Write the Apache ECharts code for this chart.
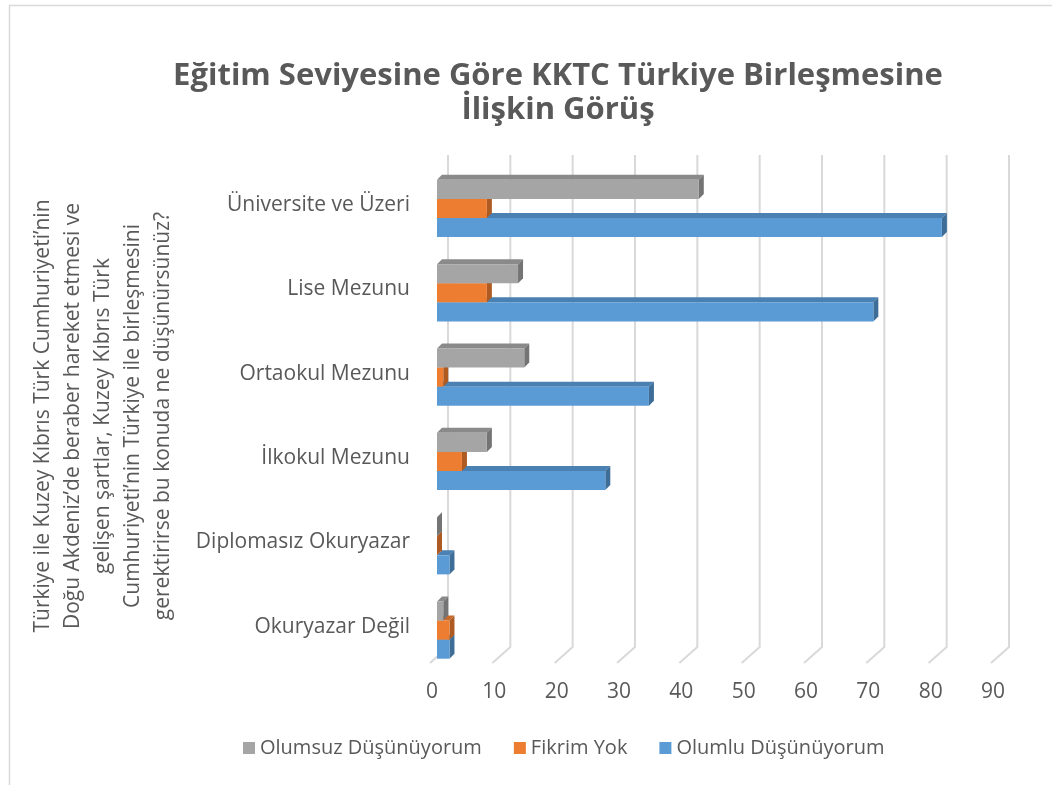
<!DOCTYPE html>
<html>
<head>
<meta charset="utf-8">
<title>Eğitim Seviyesine Göre KKTC Türkiye Birleşmesine İlişkin Görüş</title>
<script src="https://cdn.jsdelivr.net/npm/echarts@6/dist/echarts.min.js"></script>
<style>
  html, body { margin: 0; padding: 0; background: #fff; }
  #chart { width: 1052px; height: 785px; }
</style>
</head>
<body>
<div id="chart"></div>
<script>
// kategoriler (yukaridan asagiya)
var categories = ['Üniversite ve Üzeri', 'Lise Mezunu', 'Ortaokul Mezunu', 'İlkokul Mezunu', 'Diplomasız Okuryazar', 'Okuryazar Değil']
var olumsuz = [42, 13, 14, 8, 0, 1]
var fikrimYok = [8, 8, 1, 4, 0, 2]
var olumlu = [81, 70, 34, 27, 2, 2]
var xTicks = [0, 10, 20, 30, 40, 50, 60, 70, 80, 90]
var yTitleLines = [
  'Türkiye ile Kuzey Kıbrıs Türk Cumhuriyeti’nin',
  'Doğu Akdeniz’de beraber hareket etmesi ve',
  'gelişen şartlar, Kuzey Kıbrıs Türk',
  'Cumhuriyeti’nin Türkiye ile birleşmesini',
  'gerektirirse bu konuda ne düşünürsünüz?'
]

var textColor = '#595959'
var fontFamily = '"Open Sans", "Noto Sans", sans-serif'
var depth = 5

// 3 boyutlu gorunumlu cubuk ciz (on yuz + ust yuz + yan yuz)
function barRenderer (slot, colors) {
  return function (params, api) {
    var value = api.value(0)
    var cat = api.value(1)
    var start = api.coord([0, cat])
    var end = api.coord([value, cat])
    var band = api.size([0, 1])[1]
    var h = band * 0.226
    var y = start[1] - band * 0.3 + slot * h
    var x0 = start[0]
    var x1 = end[0]
    return {
      type: 'group',
      children: [
        {
          type: 'polygon',
          shape: { points: [[x0, y], [x0 + depth, y - depth], [x1 + depth, y - depth], [x1, y]] },
          style: { fill: colors[1] }
        },
        {
          type: 'polygon',
          shape: { points: [[x1, y], [x1 + depth, y - depth], [x1 + depth, y + h - depth], [x1, y + h]] },
          style: { fill: colors[2] }
        },
        {
          type: 'rect',
          shape: { x: x0, y: y, width: x1 - x0, height: h },
          style: { fill: colors[0] }
        }
      ]
    }
  }
}

// arka duvar ve zemindeki izgara cizgileri
function gridRenderer (params, api) {
  var p = api.coord([api.value(0), 0])
  var cs = params.coordSys
  var top = cs.y
  var bottom = cs.y + cs.height
  return {
    type: 'polyline',
    shape: { points: [[p[0] + 11, top - 8], [p[0] + 11, bottom - 22], [p[0] - 7, bottom - 6]] },
    style: { stroke: '#d9d9d9', lineWidth: 2, fill: null }
  }
}

function toData (arr) {
  return arr.map(function (v, i) { return [v, i] })
}

var myChart = echarts.init(document.getElementById('chart'))
myChart.setOption({
  animation: false,
  title: {
    text: 'Eğitim Seviyesine Göre KKTC Türkiye Birleşmesine\nİlişkin Görüş',
    left: 553,
    top: 54,
    textAlign: 'center',
    textStyle: {
      color: textColor,
      fontFamily: fontFamily,
      fontWeight: 'bold',
      fontSize: 31,
      lineHeight: 34
    }
  },
  legend: {
    data: ['Olumsuz Düşünüyorum', 'Fikrim Yok', 'Olumlu Düşünüyorum'],
    bottom: 22,
    left: 238,
    icon: 'rect',
    itemWidth: 12,
    itemHeight: 12,
    itemGap: 32,
    textStyle: {
      color: textColor,
      fontFamily: fontFamily,
      fontSize: 20
    }
  },
  grid: {
    left: 437,
    right: 54,
    top: 163,
    bottom: 116
  },
  xAxis: {
    type: 'value',
    min: 0,
    max: 90,
    interval: 10,
    axisLine: { show: false },
    axisTick: { show: false },
    splitLine: { show: false },
    axisLabel: {
      margin: 13,
      padding: [0, 10, 0, 0],
      color: textColor,
      fontFamily: fontFamily,
      fontSize: 21
    }
  },
  yAxis: {
    type: 'category',
    inverse: true,
    data: categories,
    axisLine: { show: false },
    axisTick: { show: false },
    axisLabel: {
      margin: 27,
      color: textColor,
      fontFamily: fontFamily,
      fontSize: 21
    }
  },
  graphic: [
    {
      type: 'rect',
      left: 7,
      top: 3,
      shape: { width: 1100, height: 1000 },
      style: { fill: null, stroke: '#d9d9d9', lineWidth: 1.5 },
      silent: true
    },
    {
      type: 'text',
      x: 103,
      y: 416,
      rotation: Math.PI / 2,
      style: {
        text: yTitleLines.join('\n'),
        fill: textColor,
        fontFamily: fontFamily,
        fontSize: 21,
        lineHeight: 30,
        align: 'center',
        verticalAlign: 'middle'
      }
    }
  ],
  series: [
    {
      name: 'izgara',
      type: 'custom',
      renderItem: gridRenderer,
      data: xTicks.map(function (v) { return [v, 0] }),
      silent: true,
      z: 1
    },
    {
      name: 'Olumlu Düşünüyorum',
      type: 'custom',
      renderItem: barRenderer(2, ['#5b9bd5', '#4a80b2', '#3e6d98']),
      itemStyle: { color: '#5b9bd5' },
      data: toData(olumlu),
      z: 2
    },
    {
      name: 'Fikrim Yok',
      type: 'custom',
      renderItem: barRenderer(1, ['#ed7d31', '#c9692a', '#ae5a23']),
      itemStyle: { color: '#ed7d31' },
      data: toData(fikrimYok),
      z: 3
    },
    {
      name: 'Olumsuz Düşünüyorum',
      type: 'custom',
      renderItem: barRenderer(0, ['#a5a5a5', '#8a8a8a', '#747474']),
      itemStyle: { color: '#a5a5a5' },
      data: toData(olumsuz),
      z: 4
    }
  ]
})
</script>
</body>
</html>
